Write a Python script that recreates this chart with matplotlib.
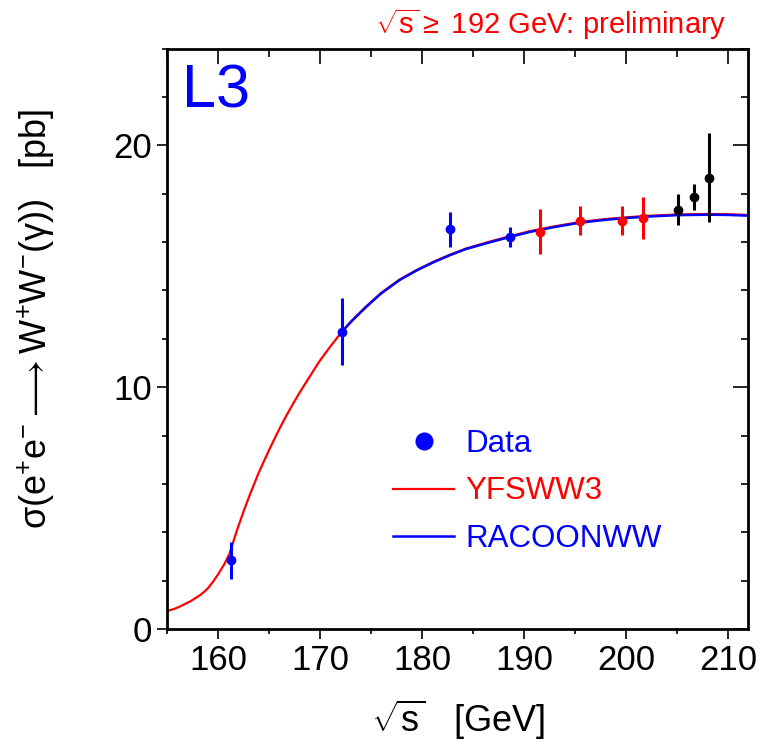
import numpy as np
import matplotlib
matplotlib.use("Agg")
import matplotlib.pyplot as plt
from matplotlib.lines import Line2D

plt.rcParams['font.family'] = ['Liberation Sans', 'DejaVu Sans']
plt.rcParams['mathtext.fontset'] = 'custom'
plt.rcParams['mathtext.rm'] = 'Liberation Sans'
plt.rcParams['mathtext.it'] = 'Liberation Sans'
plt.rcParams['mathtext.bf'] = 'Liberation Sans:bold'

# measured cross sections, split by data set
x_old = [161.3, 172.1, 182.7, 188.6]
y_old = [2.84, 12.30, 16.52, 16.21]
e_old = [0.76, 1.38, 0.72, 0.43]

x_red = [191.6, 195.5, 199.6, 201.7]
y_red = [16.43, 16.88, 16.88, 17.00]
e_red = [0.93, 0.60, 0.60, 0.87]

x_blk = [205.1, 206.7, 208.1]
y_blk = [17.33, 17.87, 18.66]
e_blk = [0.64, 0.53, 1.85]

# theory curves
x_yfs = [155.0, 155.7, 156.3, 157.3, 158.3, 158.95, 159.6, 160.1, 160.6, 161.1,
         161.4, 161.9, 162.55, 163.2, 163.9, 164.5, 165.3, 166.0, 166.7, 167.4,
         168.0, 169.0, 169.9, 171.0, 172.0, 173.0, 174.5, 176.0, 177.8, 179.5,
         181.1, 182.7, 184.3, 186.5, 188.6, 190.6, 193.0, 195.5, 198.0, 200.0,
         202.0, 205.0, 208.0, 210.0, 212.0]
y_yfs = [0.74, 0.83, 0.94, 1.15, 1.42, 1.66, 2.01, 2.33, 2.68, 3.10,
         3.50, 4.15, 4.93, 5.65, 6.38, 6.95, 7.67, 8.27, 8.83, 9.35,
         9.78, 10.45, 11.05, 11.68, 12.22, 12.70, 13.33, 13.90, 14.45, 14.85,
         15.18, 15.47, 15.73, 16.00, 16.24, 16.45, 16.65, 16.83, 16.95, 17.02,
         17.08, 17.14, 17.16, 17.15, 17.12]

x_rac = [172.0, 173.0, 174.5, 176.0, 177.8, 179.5, 181.1, 182.7, 184.3, 186.5,
         188.6, 190.6, 193.0, 195.5, 198.0, 200.0, 202.0, 205.0, 208.0, 210.0,
         212.0]
y_rac = [12.22, 12.69, 13.31, 13.88, 14.43, 14.83, 15.16, 15.45, 15.71, 15.97,
         16.21, 16.42, 16.62, 16.80, 16.92, 16.99, 17.05, 17.11, 17.13, 17.12,
         17.09]

fig = plt.figure(figsize=(7.6, 7.47), dpi=100)
ax = fig.add_axes([0.220, 0.158, 0.7646, 0.777])

ax.plot(x_yfs, y_yfs, color='#ff0000', lw=1.6, zorder=2)
ax.plot(x_rac, y_rac, color='#0000ff', lw=1.8, zorder=3)

ax.errorbar(x_old, y_old, yerr=e_old, fmt='o', color='#0000ff', ms=6,
            elinewidth=2.2, capsize=0, zorder=4)
ax.errorbar(x_red, y_red, yerr=e_red, fmt='o', color='#ff0000', ms=6,
            elinewidth=2.2, capsize=0, zorder=4)
ax.errorbar(x_blk, y_blk, yerr=e_blk, fmt='o', color='black', ms=6,
            elinewidth=2.2, capsize=0, zorder=4)

ax.set_xlim(155, 212)
ax.set_ylim(0, 24)
ax.set_xticks([160, 170, 180, 190, 200, 210])
ax.set_xticks(np.arange(155, 212, 5), minor=True)
ax.set_yticks([0, 10, 20])
ax.set_yticks(np.arange(0, 24.1, 2), minor=True)

for s in ax.spines.values():
    s.set_linewidth(2.0)

ax.tick_params(which='major', direction='out', length=7, width=1.2,
               labelsize=25, pad=4)
ax.tick_params(which='minor', direction='out', length=3.5, width=1.2)

# inward ticks on the top and right edges
top = ax.secondary_xaxis('top')
top.set_xticks([160, 170, 180, 190, 200, 210])
top.set_xticks(np.arange(155, 212, 5), minor=True)
top.tick_params(which='major', direction='in', length=11, width=1.2, labeltop=False)
top.tick_params(which='minor', direction='in', length=6, width=1.2)
right = ax.secondary_yaxis('right')
right.set_yticks([0, 10, 20])
right.set_yticks(np.arange(0, 24.1, 2), minor=True)
right.tick_params(which='major', direction='in', length=11, width=1.2, labelright=False)
right.tick_params(which='minor', direction='in', length=5, width=1.2)

ax.set_xlabel(r'$\sqrt{\mathrm{s}}$   [GeV]', fontsize=26)
ax.xaxis.set_label_coords(0.5, -0.118)
ax.set_ylabel(r'$\sigma(\mathrm{e^{+}e^{-}}{\longrightarrow}\mathrm{W^{+}W^{-}}(\gamma))$   [pb]',
              fontsize=26)
ax.yaxis.set_label_coords(-0.19, 0.534)

ax.text(0.025, 0.975, 'L3', transform=ax.transAxes, color='#0000ff',
        fontsize=44, ha='left', va='top')
ax.text(0.963, 1.012, r'$\sqrt{\mathrm{s}}\geq$ 192 GeV: preliminary',
        transform=ax.transAxes, color='#ff0000', fontsize=21,
        ha='right', va='bottom')

handles = [Line2D([], [], ls='none', marker='o', ms=12, color='#0000ff'),
           Line2D([], [], color='#ff0000', lw=1.6),
           Line2D([], [], color='#0000ff', lw=1.8)]
ax.legend(handles, ['Data', 'YFSWW3', 'RACOONWW'], loc='upper left',
          bbox_to_anchor=(0.341, 0.393), frameon=False, fontsize=22.5,
          handlelength=1.95, handletextpad=0.35, labelspacing=0.56,
          labelcolor=['#0000ff', '#ff0000', '#0000ff'])

fig.savefig('out.png', dpi=100)
